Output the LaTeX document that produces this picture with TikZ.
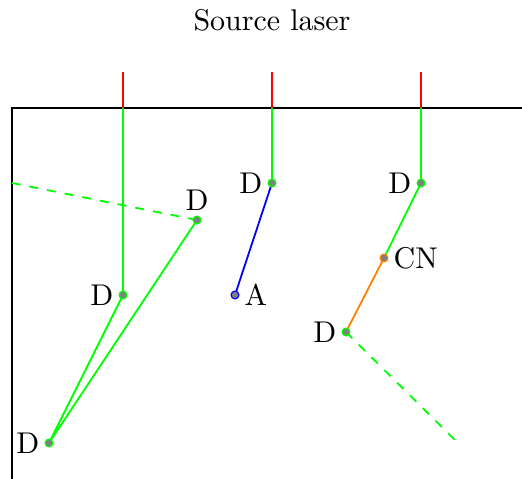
\documentclass[tikz,border=0pt]{standalone}
\begin{document}
\begin{tikzpicture}[x=0.3333pt,y=-0.3333pt,
  wire/.style={line width=0.6pt},
  dot/.style={circle,fill=gray,draw=#1,line width=0.4pt,inner sep=0pt,minimum size=2.6pt},
  lbl/.style={inner sep=1.5pt}]
\useasboundingbox (0,0) rectangle (522,479);
\node (title) at (272,20) {Source laser};
% box
\draw[wire,black] (522,108) -- (12,108) -- (12,479);
% sources
\coordinate (s1) at (123,108);
\coordinate (s2) at (272,108);
\coordinate (s3) at (421,108);
\coordinate (t1) at (123,72);
\coordinate (t2) at (272,72);
\coordinate (t3) at (421,72);
\draw[wire,red] (t1) -- (s1) (t2) -- (s2) (t3) -- (s3);
% points
\coordinate (e1) at (12,183);
\coordinate (e2) at (458,443);
% column 1
\draw[wire,green] (s1) -- (123,295);
\draw[wire,green] (123,295) -- (49,443) -- (197,220);
\draw[wire,green,dashed] (197,220) -- (e1);
% column 2
\draw[wire,green] (s2) -- (272,183);
\draw[wire,blue] (272,183) -- (235,295);
% column 3
\draw[wire,green] (s3) -- (421,183) -- (384,258);
\draw[wire,orange] (384,258) -- (346,332);
\draw[wire,green,dashed] (346,332) -- (e2);
% dots
\node[dot=green,label={[lbl]left:D}] (d1) at (123,295) {};
\node[dot=green,label={[lbl]left:D}] (d2) at (49,443) {};
\node[dot=green,label={[lbl]above:D}] (d3) at (197,220) {};
\node[dot=green,label={[lbl]left:D}] (d4) at (272,183) {};
\node[dot=blue,label={[lbl]right:A}] (a) at (235,295) {};
\node[dot=green,label={[lbl]left:D}] (d5) at (421,183) {};
\node[dot=orange,label={[lbl]right:CN}] (cn) at (384,258) {};
\node[dot=green,label={[lbl]left:D}] (d6) at (346,332) {};
\end{tikzpicture}
\end{document}
